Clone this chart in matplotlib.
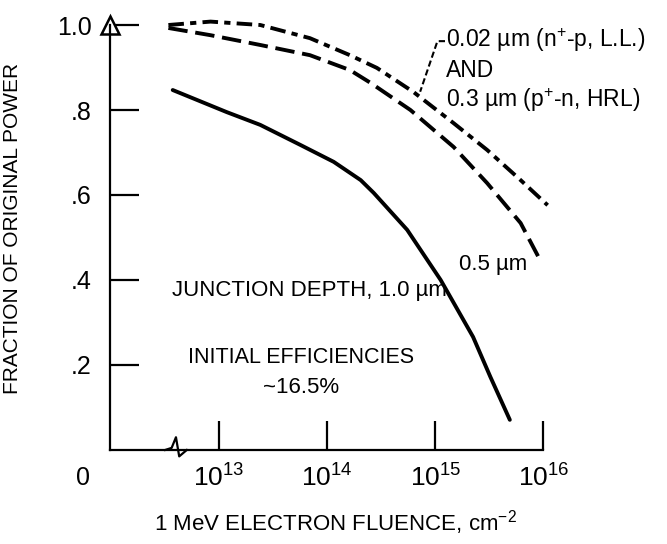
import matplotlib
matplotlib.use("Agg")
import matplotlib.pyplot as plt
import numpy as np
from matplotlib import font_manager

# pick a narrow font if there is one
names = {f.name for f in font_manager.fontManager.ttflist}
if "Liberation Sans Narrow" in names:
    plt.rcParams['font.family'] = ['Liberation Sans Narrow', 'DejaVu Sans']
else:
    plt.rcParams['font.family'] = ['Liberation Sans', 'DejaVu Sans']
plt.rcParams['mathtext.fontset'] = 'custom'
plt.rcParams['mathtext.rm'] = plt.rcParams['font.family'][0]

### DATA (log10 of fluence, fraction of original power) ###
logf_100 = [12.57, 13.07, 13.38, 13.75, 14.06, 14.31, 14.43, 14.74, 15.05, 15.35, 15.51, 15.69]
frac_100 = [0.847, 0.795, 0.765, 0.718, 0.678, 0.635, 0.605, 0.518, 0.400, 0.266, 0.172, 0.071]

logf_002 = [12.53, 12.92, 13.38, 13.84, 14.21, 14.46, 14.80, 15.17, 15.48, 15.79, 16.04]
frac_002 = [1.000, 1.008, 1.000, 0.969, 0.929, 0.899, 0.842, 0.769, 0.706, 0.635, 0.576]

logf_050 = [12.53, 12.92, 13.38, 13.84, 14.21, 14.40, 14.77, 15.17, 15.48, 15.79, 15.97]
frac_050 = [0.993, 0.976, 0.953, 0.929, 0.894, 0.864, 0.800, 0.713, 0.628, 0.534, 0.447]

xticks_exp = [13, 14, 15, 16]
yticks = [0.2, 0.4, 0.6, 0.8, 1.0]
ytick_labels = ['.2', '.4', '.6', '.8', '1.0']

fig = plt.figure(figsize=(6.67, 5.44), dpi=100)
ax = fig.add_axes([0.165, 0.1728, 0.675, 0.7996])

lw = 2.8
ax.plot(10**np.array(logf_100), frac_100, color='black', lw=lw, solid_capstyle='round')
ax.plot(10**np.array(logf_050), frac_050, color='black', lw=lw, dashes=(5, 2))
ax.plot(10**np.array(logf_002), frac_002, color='black', lw=lw, dashes=(4, 1.6, 1.6, 1.6))

ax.set_xscale('log')
ax.set_xlim(10**11.99, 10**16.157)
ax.set_ylim(0, 1.0235)

ax.spines['top'].set_visible(False)
ax.spines['right'].set_visible(False)
ax.spines['left'].set_linewidth(1.6)
ax.spines['bottom'].set_linewidth(1.6)
ax.spines['left'].set_bounds(0, 1.0)
ax.spines['bottom'].set_bounds(10**11.99, 10**16)

ax.set_xticks([10.0**e for e in xticks_exp])
ax.set_xticklabels(['$10^{%d}$' % e for e in xticks_exp])
ax.xaxis.set_minor_locator(matplotlib.ticker.NullLocator())
ax.set_yticks(yticks)
ax.set_yticklabels(ytick_labels)
ax.tick_params(axis='both', direction='in', length=21, width=1.6)
ax.tick_params(axis='y', pad=13, labelsize=18)
ax.tick_params(axis='x', pad=9, labelsize=19)

# arrow head on the y axis
ax.plot([10**11.99], [1.0], marker='^', ms=13, mfc='white', mec='black', mew=1.8, clip_on=False)

# axis break
bx = 10**np.array([12.5, 12.56, 12.6, 12.63, 12.7])
ax.plot(bx, [0, 0.005, 0.03, -0.015, 0], color='black', lw=1.6, clip_on=False)

ax.text(-0.06, -0.065, '0', transform=ax.transAxes, fontsize=18, ha='center', va='center')

ax.set_ylabel('FRACTION OF ORIGINAL POWER', fontsize=15)
ax.yaxis.set_label_coords(-0.196, 0.51)
ax.set_xlabel('1 MeV ELECTRON FLUENCE, cm$^{-2}$', fontsize=16, labelpad=13)

ax.text(10**12.56, 0.375, 'JUNCTION DEPTH, 1.0 µm', fontsize=16, ha='left', va='center')
ax.text(10**13.76, 0.218, 'INITIAL EFFICIENCIES', fontsize=15.5, ha='center', va='center')
ax.text(10**13.76, 0.148, '~16.5%', fontsize=16, ha='center', va='center')
ax.text(10**15.22, 0.437, '0.5 µm', fontsize=16, ha='left', va='center')
ax.text(10**15.10, 0.964, '0.02 µm (n$^{+}$-p, L.L.)', fontsize=16.5, ha='left', va='center')
ax.text(10**15.10, 0.893, 'AND', fontsize=16.5, ha='left', va='center')
ax.text(10**15.10, 0.823, '0.3 µm (p$^{+}$-n, HRL)', fontsize=16.5, ha='left', va='center')

# leader from label to the upper curve
ax.plot(10**np.array([15.09, 15.02, 14.86]), [0.962, 0.962, 0.843], color='black', lw=1.5, dashes=(3, 1.5))

fig.savefig('out.png', dpi=100)
